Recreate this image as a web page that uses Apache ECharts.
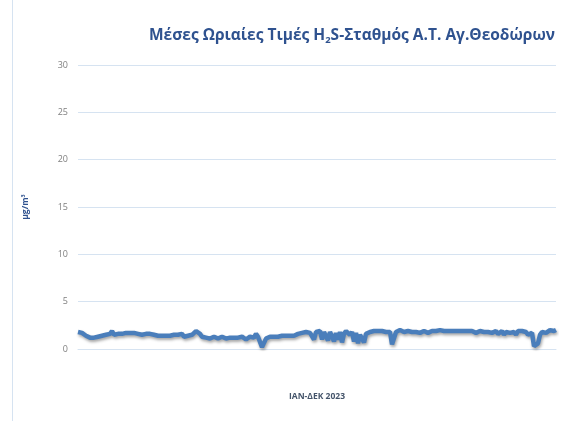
<!DOCTYPE html>
<html>
<head>
<meta charset="utf-8">
<script src="https://cdn.jsdelivr.net/npm/echarts@6/dist/echarts.min.js"></script>
<style>
  html, body { margin: 0; padding: 0; background: #fff; }
  #chart { width: 566px; height: 423px; }
</style>
</head>
<body>
<div id="chart"></div>
<script>
  const h2sValues = [
    1.8,1.9,1.7,1.8,1.4,1.3,1.2,1.3,1.2,1.3,
    1.3,1.2,1.4,1.3,1.5,1.4,1.6,1.9,1.5,1.7,
    1.6,1.7,1.6,1.5,1.7,1.6,1.7,1.6,1.7,1.6,
    1.6,1.7,1.5,1.6,1.6,1.5,1.6,1.4,1.5,1.5,
    1.4,1.5,1.4,1.3,1.4,1.5,1.4,1.3,1.5,1.4,
    1.5,1.4,1.6,1.3,1.5,1.4,1.6,1.5,1.7,1.9,
    2.0,1.6,1.3,1.4,1.2,1.3,1.1,1.2,1.3,1.2,
    1.1,1.2,1.3,1.2,1.1,1.3,1.2,1.1,1.2,1.3,
    1.2,1.1,1.3,1.2,1.0,1.2,1.3,1.1,1.2,1.6,
    1.3,1.2,0.2,0.1,1.1,1.2,1.3,1.2,1.3,1.2,
    1.3,1.2,1.4,1.3,1.4,1.5,1.4,1.5,1.4,1.5,
    1.6,1.5,1.7,1.5,1.8,1.6,1.7,1.8,1.0,1.8,
    1.7,1.9,1.0,1.8,1.7,0.9,1.8,1.6,0.8,1.7,
    1.0,1.8,0.7,1.6,1.9,1.7,1.5,1.8,0.8,1.7,
    0.6,1.5,1.6,0.7,1.6,1.7,1.8,1.8,1.9,1.8,
    1.9,1.8,1.9,2.0,1.8,1.9,1.8,0.5,0.6,1.8,
    1.9,2.0,1.9,1.8,1.9,1.9,2.0,1.8,1.9,1.8,
    1.9,1.7,1.8,1.9,1.8,1.7,1.8,1.9,1.8,1.9,
    1.9,2.0,1.9,1.9,2.0,1.9,2.0,1.9,2.0,1.9,
    2.0,1.9,2.0,1.9,1.8,1.9,1.8,1.9,1.8,1.7,
    1.8,1.9,1.7,1.8,1.6,1.8,1.9,1.7,1.8,1.9,
    1.6,1.8,1.9,1.5,1.8,1.9,1.7,1.9,1.8,1.5,
    1.9,1.8,1.9,1.7,1.8,1.5,1.6,1.7,0.3,0.2,
    0.6,1.5,1.8,1.9,1.7,1.9,2.0,1.8,1.9,2.0
  ];
  const sampleLabels = h2sValues.map((v, i) => String(i + 1));
  const yMin = 0, yMax = 30, yStep = 5;

  const mychart = echarts.init(document.getElementById('chart'));
  const option = {
    backgroundColor: '#fff',
    animation: false,
    title: {
      text: '{t|Μέσες Ωριαίες Τιμές H}{s|2}{t|S-Σταθμός Α.Τ. Αγ.Θεοδώρων}',
      left: 144,
      top: 22,
      textStyle: {
        rich: {
          t: { fontFamily: 'Open Sans', fontWeight: 'bold', fontSize: 15.5, color: '#2F528F' },
          s: { fontFamily: 'Open Sans', fontWeight: 'bold', fontSize: 9.5, color: '#2F528F', padding: [8, 0, 0, 0] }
        }
      }
    },
    graphic: [{
      type: 'line',
      shape: { x1: 12.5, y1: 0, x2: 12.5, y2: 421 },
      style: { stroke: '#D6E3F1', lineWidth: 1 }
    }],
    grid: {
      left: 78,
      right: 10,
      top: 65,
      bottom: 74,
      containLabel: false
    },
    xAxis: {
      type: 'category',
      data: sampleLabels,
      boundaryGap: false,
      name: 'ΙΑΝ-ΔΕΚ 2023',
      nameLocation: 'middle',
      nameGap: 43,
      nameTextStyle: { fontFamily: 'Open Sans', fontWeight: 'bold', fontSize: 8.5, color: '#44546A' },
      axisTick: { show: false },
      axisLabel: { show: false },
      axisLine: { show: true, lineStyle: { color: '#D6E3F1', width: 1 } }
    },
    yAxis: {
      type: 'value',
      min: yMin,
      max: yMax,
      interval: yStep,
      name: 'μg/m³',
      nameLocation: 'middle',
      nameGap: 48,
      nameTextStyle: { fontFamily: 'Open Sans', fontWeight: 'bold', fontSize: 8.5, color: '#2F528F' },
      axisLine: { show: false },
      axisTick: { show: false },
      axisLabel: { color: '#7F7F7F', fontFamily: 'Open Sans', fontSize: 9, margin: 10 },
      splitLine: { lineStyle: { color: '#D6E3F1', width: 1 } }
    },
    series: [{
      type: 'line',
      data: h2sValues,
      showSymbol: false,
      symbol: 'none',
      lineStyle: {
        color: '#4A7EBB',
        width: 4.5,
        join: 'bevel',
        shadowColor: 'rgba(0,0,0,0.35)',
        shadowBlur: 3,
        shadowOffsetY: 2,
        shadowOffsetX: 1
      }
    }]
  };
  mychart.setOption(option);
</script>
</body>
</html>
